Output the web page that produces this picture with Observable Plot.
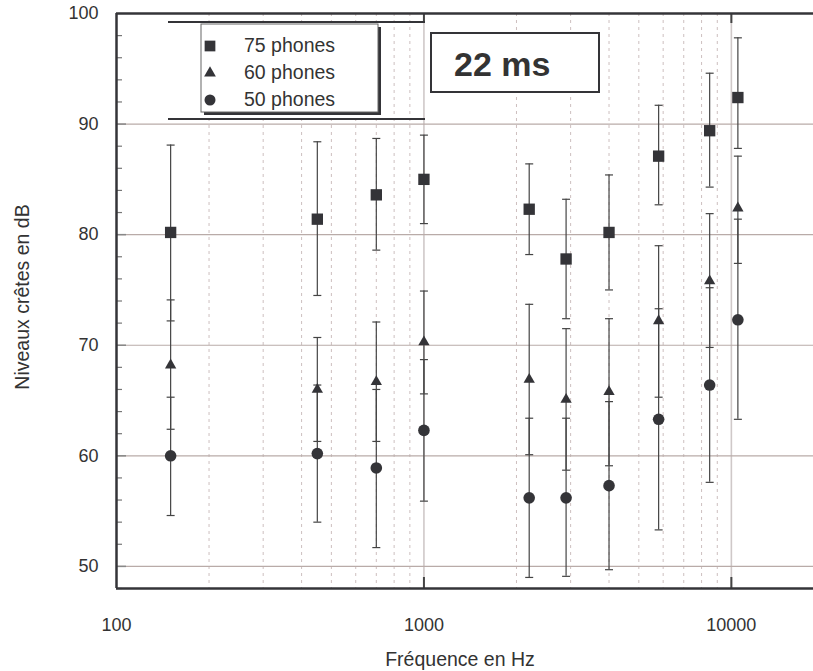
<!DOCTYPE html>
<html><head><meta charset="utf-8">
<script src="https://cdn.jsdelivr.net/npm/d3@7"></script>
<script src="https://cdn.jsdelivr.net/npm/@observablehq/plot@0.6"></script>
<style>
body{margin:0;background:#fff}
#wrap{position:relative;width:813px;height:671px;overflow:hidden;font-family:"Liberation Sans",Arial,sans-serif}
#over{position:absolute;left:0;top:0}
</style>
</head><body><div id="wrap"></div>
<script>
// ---- data ----
const freqs = [150, 450, 700, 1000, 2200, 2900, 4000, 5800, 8500, 10500];
const p75   = [80.2, 81.4, 83.6, 85.0, 82.3, 77.8, 80.2, 87.1, 89.4, 92.4];
const p75lo = [72.2, 74.5, 78.6, 81.0, 78.2, 72.4, 75.0, 82.7, 84.3, 87.8];
const p75hi = [88.1, 88.4, 88.7, 89.0, 86.4, 83.2, 85.4, 91.7, 94.6, 97.8];
const p60   = [68.2, 66.0, 66.7, 70.3, 66.9, 65.1, 65.8, 72.2, 75.8, 82.4];
const p60lo = [62.4, 61.3, 61.3, 65.6, 60.1, 58.7, 59.1, 65.3, 69.8, 77.4];
const p60hi = [74.1, 70.7, 72.1, 74.9, 73.7, 71.5, 72.4, 79.0, 81.9, 87.1];
const p50   = [60.0, 60.2, 58.9, 62.3, 56.2, 56.2, 57.3, 63.3, 66.4, 72.3];
const p50lo = [54.6, 54.0, 51.7, 55.9, 49.0, 49.1, 49.7, 53.3, 57.6, 63.3];
const p50hi = [65.3, 66.4, 66.0, 68.7, 63.4, 63.4, 64.9, 73.3, 75.2, 81.4];
const seriesNames = ["75 phones", "60 phones", "50 phones"];
const xTickLabels = [100, 1000, 10000];
const xMinor = [200,300,400,500,600,700,800,900,2000,3000,4000,5000,6000,7000,8000,9000];
const xMajor = [1000, 10000];
const yTickLabels = [50, 60, 70, 80, 90, 100];
const yGrid = [50, 60, 70, 80, 90];
const yMinor = [48,52,54,56,58,62,64,66,68,72,74,76,78,82,84,86,88,92,94,96,98];
const titleText = "22 ms";
const xTitle = "Fréquence en Hz";
const yTitle = "Niveaux crêtes en dB";

// ---- build rows ----
const mk = (v, lo, hi) => freqs.map((f, i) => ({f, v: v[i], lo: lo[i], hi: hi[i]}));
const s75 = mk(p75, p75lo, p75hi);
const s60 = mk(p60, p60lo, p60hi);
const s50 = mk(p50, p50lo, p50hi);
const all = [...s75, ...s60, ...s50];

const capSym = {draw(ctx) { ctx.moveTo(-4, 0); ctx.lineTo(4, 0); }};
const dark = "#343438";
const W = 813, H = 671, mL = 116, mT = 13, mB = 83, mR = 0;
const fw = W - mL - mR, fh = H - mT - mB;

const chart = Plot.plot({
  width: W, height: H,
  marginLeft: mL, marginRight: mR, marginTop: mT, marginBottom: mB,
  style: {fontFamily: '"Liberation Sans", Arial, sans-serif', fontSize: "18px", color: "#333", background: "#fff"},
  x: {type: "log", domain: [100, 18500]},
  y: {domain: [48, 100]},
  marks: [
    Plot.ruleX(xMinor, {stroke: "#cdbfbf", strokeDasharray: "3,4", strokeWidth: 1}),
    Plot.ruleX(xMajor, {stroke: "#cfc8c8", strokeWidth: 1.6}),
    Plot.ruleY(yGrid, {stroke: "#b9aba8", strokeWidth: 1.2}),
    Plot.tickY(yGrid, {stroke: "#888", strokeWidth: 1.5, insetRight: fw - 10}),
    Plot.tickY(yMinor, {stroke: "#777", strokeWidth: 1.2, insetRight: fw - 6}),
    Plot.tickX(xMajor, {stroke: "#444", strokeWidth: 2, insetTop: fh - 11}),
    Plot.tickX(xMajor, {stroke: "#444", strokeWidth: 2, insetBottom: fh - 10}),
    Plot.ruleX(all, {x: "f", y1: "lo", y2: "hi", stroke: "#444", strokeWidth: 1.2}),
    Plot.dot(all, {x: "f", y: "lo", symbol: capSym, stroke: "#444", strokeWidth: 1.2, fill: "none"}),
    Plot.dot(all, {x: "f", y: "hi", symbol: capSym, stroke: "#444", strokeWidth: 1.2, fill: "none"}),
    Plot.dot(s75, {x: "f", y: "v", symbol: "square", r: 6.4, fill: dark, stroke: "none"}),
    Plot.dot(s60, {x: "f", y: "v", symbol: "triangle", r: 4.2, fill: dark, stroke: "none"}),
    Plot.dot(s50, {x: "f", y: "v", symbol: "circle", r: 5.8, fill: dark, stroke: "none"}),
    Plot.ruleX([100], {stroke: dark, strokeWidth: 2.5}),
    Plot.ruleY([100, 48], {stroke: dark, strokeWidth: 2.5}),
    Plot.axisX({ticks: xTickLabels, tickSize: 0, tickPadding: 30, tickFormat: d => String(d), label: null, fill: "#333"}),
    Plot.axisY({ticks: yTickLabels, tickSize: 0, tickPadding: 18, label: null, fill: "#333"}),
    Plot.text([xTitle], {frameAnchor: "bottom", dx: -5, dy: 77, text: d => d, fontSize: 19.5, fill: "#333", lineAnchor: "bottom"}),
    Plot.text([yTitle], {frameAnchor: "left", dx: -94, dy: -4, rotate: -90, textAnchor: "middle", text: d => d, fontSize: 19.5, fill: "#333"})
  ]
});
const wrap = document.getElementById("wrap");
wrap.appendChild(chart);

// ---- legend + title box overlay ----
const ov = d3.select(wrap).append("svg").attr("id", "over").attr("width", W).attr("height", H)
  .style("font-family", '"Liberation Sans", Arial, sans-serif');
ov.append("line").attr("x1", 168).attr("x2", 425).attr("y1", 22).attr("y2", 22).attr("stroke", dark).attr("stroke-width", 2);
ov.append("line").attr("x1", 168).attr("x2", 425).attr("y1", 119).attr("y2", 119).attr("stroke", dark).attr("stroke-width", 2);
ov.append("rect").attr("x", 204).attr("y", 27).attr("width", 177).attr("height", 88).attr("fill", dark);
ov.append("rect").attr("x", 201).attr("y", 24).attr("width", 177).attr("height", 88).attr("fill", "#fff").attr("stroke", "#666").attr("stroke-width", 1);
const syms = [d3.symbolSquare, d3.symbolTriangle, d3.symbolCircle];
const sizes = [115, 60, 95];
const ys = [46, 73, 100];
seriesNames.forEach((name, i) => {
  ov.append("path").attr("d", d3.symbol(syms[i], sizes[i])()).attr("transform", `translate(210,${ys[i]})`).attr("fill", dark);
  ov.append("text").attr("x", 244).attr("y", ys[i] + 6).attr("font-size", 19.5).attr("fill", "#333").text(name);
});
ov.append("rect").attr("x", 431).attr("y", 33).attr("width", 168).attr("height", 59).attr("fill", "#fff").attr("stroke", dark).attr("stroke-width", 2);
ov.append("text").attr("x", 454).attr("y", 76).attr("font-size", 34).attr("font-weight", "bold").attr("fill", "#333").text(titleText);
</script></body></html>
